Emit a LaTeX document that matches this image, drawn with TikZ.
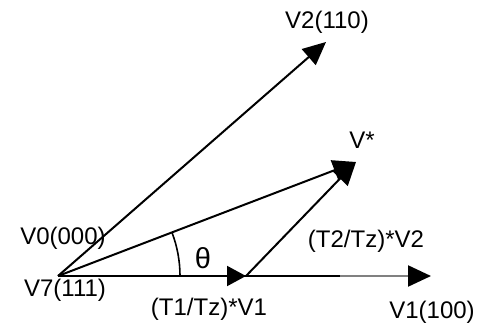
\documentclass[tikz,border=0pt]{standalone}
\usepackage{fontspec}
\setmainfont{Liberation Sans}
\usetikzlibrary{arrows.meta,calc}
\begin{document}
\begin{tikzpicture}[x=1pt,y=-1pt,
  vec/.style={line width=2pt,-{Triangle[length=23pt,width=21pt,color=black]}},
  lbl/.style={font=\fontsize{24}{26}\selectfont,inner sep=0pt}]
\useasboundingbox (0,0) rectangle (479,326);
\coordinate (O) at (58,276);
\coordinate (V1) at (431,276);
\coordinate (G) at (340,276);
\coordinate (T1) at (246,276);
\coordinate (V2) at (326,42);
\coordinate (Vs) at (356,162);
% V1 axis
\draw[line width=2.2pt] (O) -- (G);
\draw[vec,line width=2.2pt,black!50] (G) -- (V1);
\draw[vec,-{Triangle[length=19pt,width=20pt]}] (O) -- (T1);
\draw[vec] (O) -- (V2);
\draw[vec] (O) -- (Vs);
\draw[vec] (T1) -- (Vs);
% angle arc
\draw[line width=1.6pt] ($(O)+(122,0)$) arc[start angle=0,end angle=-20.8,radius=122];
% labels
\node[lbl] (lV2) at (327,22) {V2(110)};
\node[lbl] (lVs) at (362,140) {V*};
\node[lbl] (lV0) at (63,238) {V0(000)};
\node[lbl] (lV7) at (65,290) {V7(111)};
\node[lbl] (lT1) at (209,309) {(T1/Tz)*V1};
\node[lbl] (lT2) at (366,241) {(T2/Tz)*V2};
\node[lbl] (lV1) at (432,312) {V1(100)};
\node[lbl,font=\fontsize{29}{30}\selectfont] (lth) at (203,258) {θ};
\end{tikzpicture}
\end{document}
